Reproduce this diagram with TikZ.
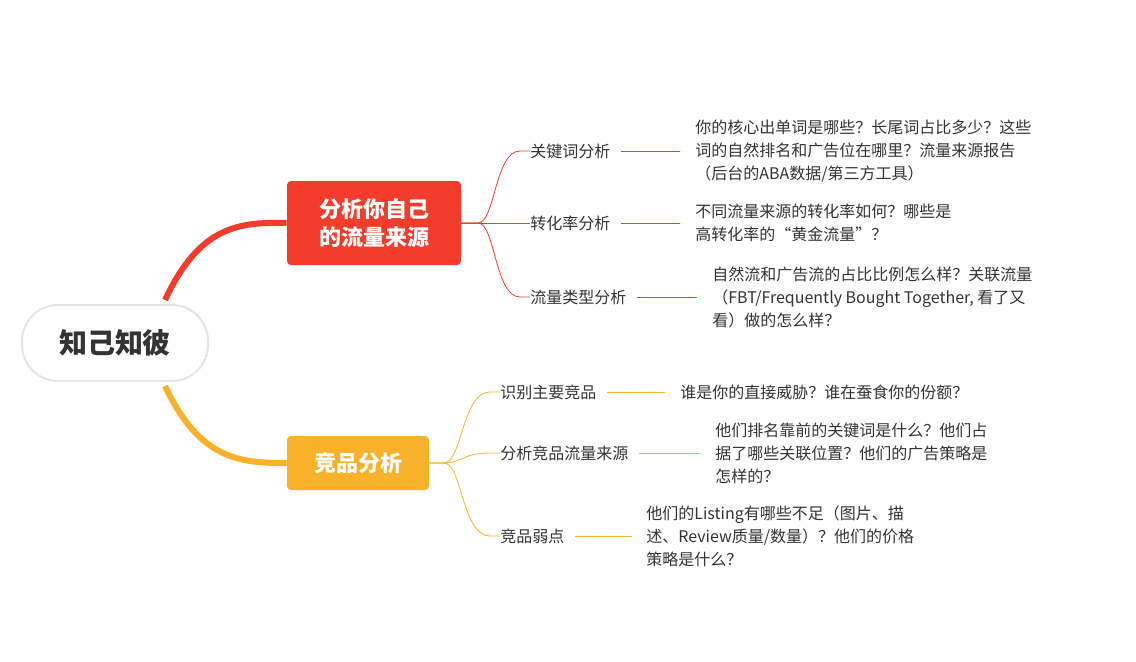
\documentclass[tikz,border=0pt]{standalone}
\usepackage{fontspec}
\setmainfont{Noto Sans CJK SC}
\usetikzlibrary{positioning}
\definecolor{redmain}{HTML}{F23D2C}
\definecolor{orangemain}{HTML}{F7B12A}
\definecolor{txt}{HTML}{333333}
\tikzset{
  topic/.style = {rounded corners = 2pt, text = white, font = \bfseries\fontsize{11}{14}\selectfont, align = center, inner sep = 0pt},
  leaf/.style = {font = \fontsize{8}{11}\selectfont, text = txt, anchor = west, inner sep = 0pt},
  desc/.style = {font = \fontsize{8}{11.5}\selectfont, text = txt, anchor = west, align = left, inner sep = 0pt},
  twig/.style = {line width = 0.4pt}
}
\begin{document}
\begin{tikzpicture}[x = 0.5pt, y = -0.5pt]
	\useasboundingbox (0, 0) rectangle (1136, 661);
	
	\node (root) at (115, 343) [draw = black!10, line width = 1pt, fill = white, rounded corners = 18pt, minimum width = 93pt, minimum height = 38pt, font = \bfseries\fontsize{14}{16}\selectfont, text = txt] {知己知彼};
	\node (own) at (374, 223) [topic, fill = redmain, minimum width = 87pt, minimum height = 42pt] {分析你自己\\的流量来源};
	\node (comp) at (358, 463) [topic, fill = orangemain, minimum width = 71pt, minimum height = 27pt] {竞品分析};
	
	\draw[redmain, line width = 3pt] (165, 300) .. controls (200, 225) and (240, 222) .. (own.west);
	\draw[orangemain, line width = 3pt] (165, 386) .. controls (200, 460) and (240, 463) .. (comp.west);
	
	% own traffic
	\node (kw) at (530, 151) [leaf] {关键词分析};
	\node (cv) at (530, 223) [leaf] {转化率分析};
	\node (tt) at (530, 297) [leaf] {流量类型分析};
	\coordinate (kwend) at (680, 151);
	\coordinate (cvend) at (680, 223);
	\coordinate (ttend) at (697, 297);
	\node (kwd) at (695, 151) [desc] {你的核心出单词是哪些？长尾词占比多少？这些\\词的自然排名和广告位在哪里？流量来源报告\\（后台的ABA数据/第三方工具）};
	\node (cvd) at (695, 223) [desc] {不同流量来源的转化率如何？哪些是\\高转化率的“黄金流量”？};
	\node (ttd) at (712, 297) [desc] {自然流和广告流的占比比例怎么样？关联流量\\（FBT/Frequently Bought Together, 看了又\\看）做的怎么样？};
	\foreach \k/\e in {kw/kwend, cv/cvend, tt/ttend} {
		\draw[redmain, twig] (own.east) -- (478, 223) .. controls (495, 223) and (495, 0 |- \k.west) .. (520, 0 |- \k.west) -- (\k.west);
		\draw[redmain, twig] ([xshift = 5pt] \k.east) -- (\e);
	}
	
	% competitors
	\node (main) at (500, 392) [leaf] {识别主要竞品};
	\node (src) at (500, 453) [leaf] {分析竞品流量来源};
	\node (weak) at (500, 536) [leaf] {竞品弱点};
	\coordinate (mainend) at (665, 392);
	\coordinate (srcend) at (700, 453);
	\coordinate (weakend) at (632, 536);
	\node (maind) at (680, 392) [desc] {谁是你的直接威胁？谁在蚕食你的份额？};
	\node (srcd) at (715, 453) [desc] {他们排名靠前的关键词是什么？他们占\\据了哪些关联位置？他们的广告策略是\\怎样的？};
	\node (weakd) at (646, 536) [desc] {他们的Listing有哪些不足（图片、描\\述、Review质量/数量）？他们的价格\\策略是什么？};
	\foreach \k/\e in {main/mainend, src/srcend, weak/weakend} {
		\draw[orangemain, twig] (comp.east) -- (444, 463) .. controls (462, 463) and (462, 0 |- \k.west) .. (490, 0 |- \k.west) -- (\k.west);
		\draw[orangemain, twig] ([xshift = 5pt] \k.east) -- (\e);
	}
	
\end{tikzpicture}
\end{document}
